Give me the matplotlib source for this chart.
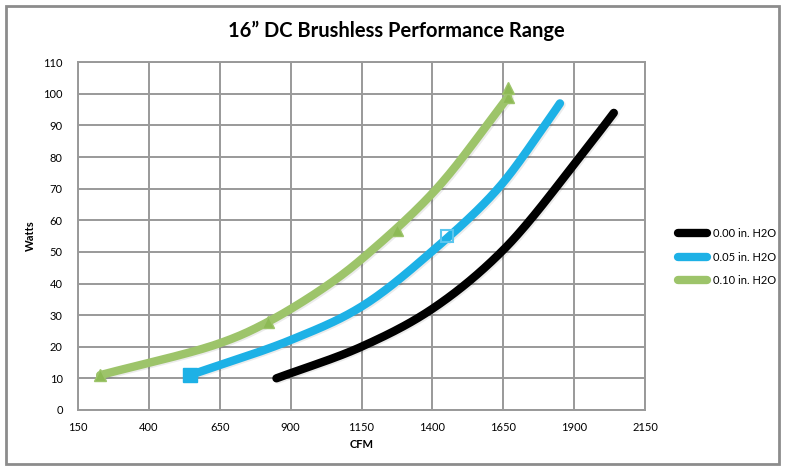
import numpy as np
import matplotlib
matplotlib.use("Agg")
import matplotlib.pyplot as plt
from matplotlib.lines import Line2D
from matplotlib.patches import Rectangle

# ---- data ----
black_cfm = [850, 1150, 1400, 1650, 1920, 2040]
black_w   = [10, 20, 32, 50.6, 80, 94]

blue_cfm = [545, 900, 1150, 1403, 1631, 1796, 1850]
blue_w   = [11, 22.1, 32.7, 50.5, 70, 90, 97]

green_cfm = [228, 650, 821, 1039, 1180, 1415, 1667]
green_w   = [11, 21.1, 27.9, 40, 50, 70, 99]

blue_mark_cfm = [545, 1450]
blue_mark_w = [11, 55]
green_mark_cfm = [228, 821, 1274, 1667, 1667]
green_mark_w = [11, 27.9, 57, 99, 102]

labels = ["0.00 in. H2O", "0.05 in. H2O", "0.10 in. H2O"]
xticks = [150, 400, 650, 900, 1150, 1400, 1650, 1900, 2150]
yticks = [0, 10, 20, 30, 40, 50, 60, 70, 80, 90, 100, 110]
title = "16\u201d DC Brushless Performance Range"

BLACK = "#000000"
BLUE = "#1DB1E6"
GREEN = "#9DC46A"
GRID = "#999999"
FONT = ["Lato", "DejaVu Sans"]


def smooth(xs, ys, n=30, alpha=0.5):
    """Centripetal Catmull-Rom rendering of a smoothed line through the points."""
    sx, sy = 2000.0, 110.0 * 567 / 348  # roughly equal pixel scaling
    P = np.column_stack([np.asarray(xs, float) / sx, np.asarray(ys, float) / sy])
    P = np.vstack([2 * P[0] - P[1], P, 2 * P[-1] - P[-2]])
    out = []
    for i in range(1, len(P) - 2):
        p0, p1, p2, p3 = P[i - 1], P[i], P[i + 1], P[i + 2]
        t0 = 0.0
        t1 = t0 + np.linalg.norm(p1 - p0) ** alpha
        t2 = t1 + np.linalg.norm(p2 - p1) ** alpha
        t3 = t2 + np.linalg.norm(p3 - p2) ** alpha
        t = np.linspace(t1, t2, n)[:, None]
        A1 = (t1 - t) / (t1 - t0) * p0 + (t - t0) / (t1 - t0) * p1
        A2 = (t2 - t) / (t2 - t1) * p1 + (t - t1) / (t2 - t1) * p2
        A3 = (t3 - t) / (t3 - t2) * p2 + (t - t2) / (t3 - t2) * p3
        B1 = (t2 - t) / (t2 - t0) * A1 + (t - t0) / (t2 - t0) * A2
        B2 = (t3 - t) / (t3 - t1) * A2 + (t - t1) / (t3 - t1) * A3
        C = (t2 - t) / (t2 - t1) * B1 + (t - t1) / (t2 - t1) * B2
        out.append(C if i == 1 else C[1:])
    out = np.vstack(out)
    return out[:, 0] * sx, out[:, 1] * sy


fig = plt.figure(figsize=(7.89, 4.69), dpi=100)
ax = fig.add_axes([78/789, 1-409.9/469, (645-78)/789, (409.9-62.3)/469])

lw = 6.0
for xs, ys, c in [(black_cfm, black_w, BLACK), (blue_cfm, blue_w, BLUE), (green_cfm, green_w, GREEN)]:
    sx, sy = smooth(xs, ys)
    ax.plot(sx + 6, sy - 0.4, color="#000000", alpha=0.08, lw=lw,
            solid_capstyle="round", solid_joinstyle="round", zorder=2)
    ax.plot(sx, sy, color=c, lw=lw, solid_capstyle="round", solid_joinstyle="round", zorder=3)

ax.plot(blue_mark_cfm[:1], blue_mark_w[:1], "s", color=BLUE, ms=10, zorder=4)
ax.plot(blue_mark_cfm[1:], blue_mark_w[1:], "s", mfc="none", mec="#5CC6EE", mew=1.5, ms=9, zorder=4)
ax.plot(green_mark_cfm, green_mark_w, "^", color="#8DBA55", mec="#9DC46A", ms=9, zorder=4)

ax.set_xlim(150, 2150)
ax.set_ylim(0, 110)
ax.set_xticks(xticks)
ax.set_yticks(yticks)
ax.grid(True, color=GRID, lw=1.4, zorder=0)
ax.set_axisbelow(True)
for s in ax.spines.values():
    s.set_color(GRID)
    s.set_linewidth(1.4)
ax.tick_params(length=0, labelsize=8)
for lab in ax.get_xticklabels() + ax.get_yticklabels():
    lab.set_family(FONT)
ax.tick_params(axis="x", pad=9)
ax.tick_params(axis="y", pad=11)

ax.set_xlabel("CFM", fontsize=8, fontweight="bold", family=FONT, labelpad=4)
ax.set_ylabel("Watts", fontsize=8, fontweight="bold", family=FONT, labelpad=5)

fig.text(396/789, 1-31/469, title, fontsize=14.5, fontweight="bold", family=FONT,
         ha="center", va="center")

handles = [Line2D([0], [0], color=c, lw=lw, solid_capstyle="round") for c in (BLACK, BLUE, GREEN)]
fig.legend(handles, labels, loc="center left", bbox_to_anchor=(668/789, 1-257/469),
           frameon=False, handlelength=2.6, handletextpad=0.55, labelspacing=1.1,
           prop={"family": FONT, "size": 8})

fig.patches.append(Rectangle((6/789, 5/469), 773/789, 458/469, transform=fig.transFigure,
                             fill=False, edgecolor="#8C8C8C", lw=2))

fig.savefig("out.png", dpi=100)
